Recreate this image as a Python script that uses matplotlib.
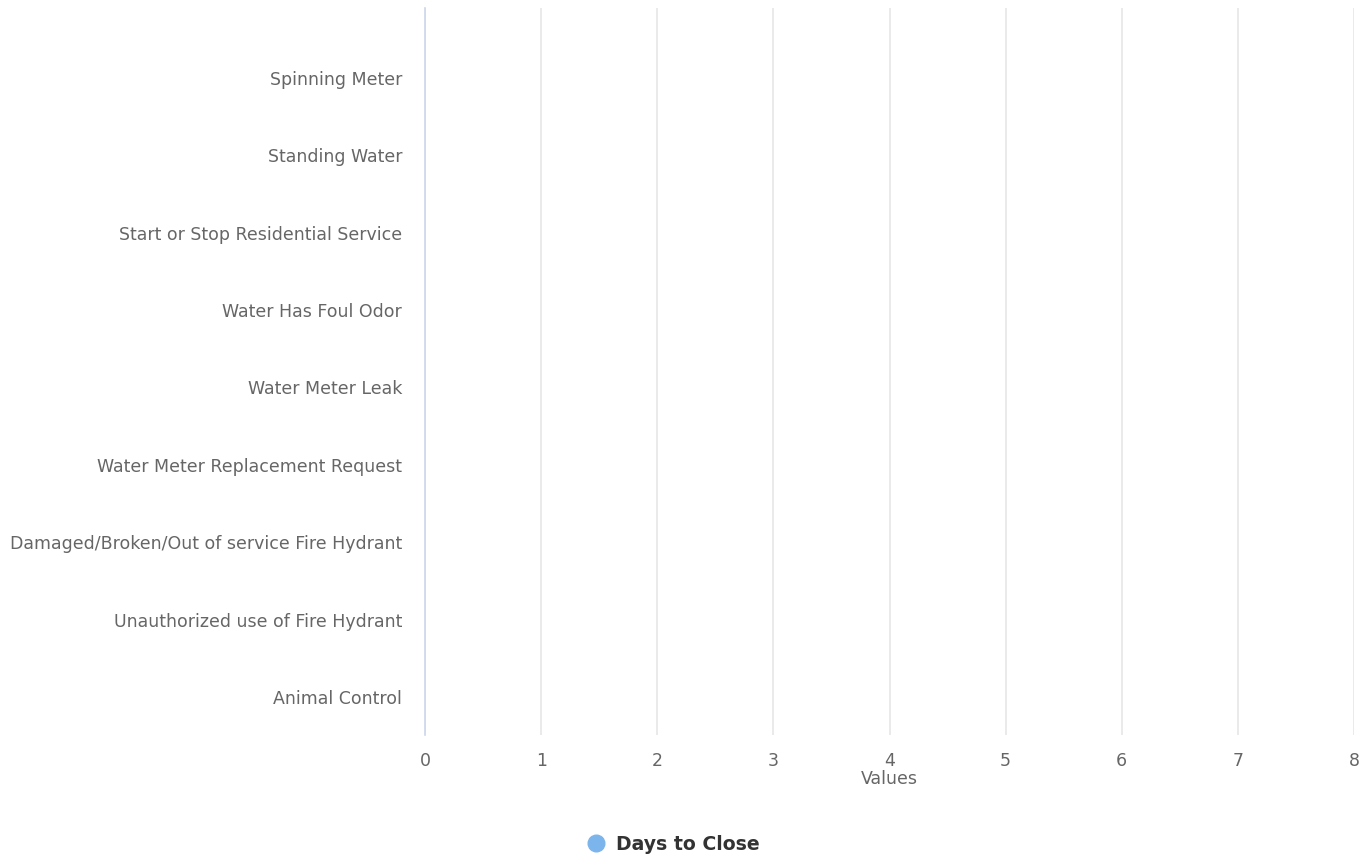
import matplotlib
matplotlib.use("Agg")
import matplotlib.pyplot as plt
from matplotlib.lines import Line2D

categories = [
    "Animal Control",
    "Unauthorized use of Fire Hydrant",
    "Damaged/Broken/Out of service Fire Hydrant",
    "Water Meter Replacement Request",
    "Water Meter Leak",
    "Water Has Foul Odor",
    "Start or Stop Residential Service",
    "Standing Water",
    "Spinning Meter",
]
days_to_close = [0, 0, 0, 0, 0, 0, 0, 0, 0]
x_ticks = [0, 1, 2, 3, 4, 5, 6, 7, 8]

W, H = 1366, 866
fig = plt.figure(figsize=(W / 100, H / 100), dpi=100)
left, right, top, bottom = 425, 1354, 8, 735
ax = fig.add_axes([left / W, 1 - bottom / H, (right - left) / W, (bottom - top) / H])

pos = list(range(len(categories)))
ax.barh(pos, days_to_close, height=0.6, color="#7cb5ec")

ax.set_xlim(0, 8)
ax.set_ylim(-0.49, len(categories) - 1 + 0.9)
ax.set_xticks(x_ticks)
ax.set_xticklabels([str(t) for t in x_ticks])
ax.set_yticks(pos)
ax.set_yticklabels(categories)

for s in ["top", "right", "bottom"]:
    ax.spines[s].set_visible(False)
ax.spines["left"].set_color("#ccd6eb")
ax.spines["left"].set_linewidth(1.2)
ax.grid(axis="x", color="#e6e6e6", linewidth=1.2)
ax.set_axisbelow(True)
ax.tick_params(axis="both", length=0, labelsize=12.5, colors="#666666")
ax.tick_params(axis="y", pad=16.5)
ax.tick_params(axis="x", pad=12.5)

ax.set_xlabel("Values", fontsize=12.5, color="#666666", labelpad=0)

handle = Line2D([], [], marker="o", linestyle="none", markersize=12,
                markerfacecolor="#7cb5ec", markeredgecolor="#7cb5ec")
fig.legend([handle], ["Days to Close"], loc="center", bbox_to_anchor=(673 / W, 1 - 844 / H),
           frameon=False, prop={"weight": "bold", "size": 13.6}, labelcolor="#333333",
           handletextpad=0.55, handlelength=1.0)

fig.savefig("out.png", dpi=100)
